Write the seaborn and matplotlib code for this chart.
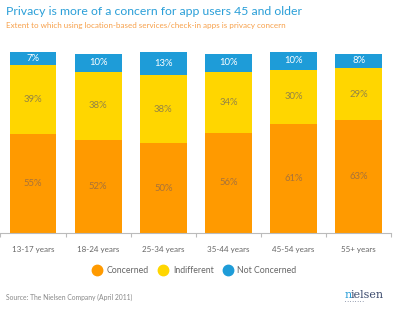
import matplotlib
matplotlib.use("Agg")
import matplotlib.pyplot as plt
from matplotlib.lines import Line2D
import numpy as np
import pandas as pd
import seaborn as sns

categories = ["13-17 years", "18-24 years", "25-34 years", "35-44 years", "45-54 years", "55+ years"]
concerned = [55, 52, 50, 56, 61, 63]
indifferent = [39, 38, 38, 34, 30, 29]
not_concerned = [7, 10, 13, 10, 10, 8]

series_names = ["Concerned", "Indifferent", "Not Concerned"]
series_values = [concerned, indifferent, not_concerned]
colors = ["#FF9A00", "#FFD600", "#1E9CD8"]
label_colors = ["#A8733A", "#948446", "#FFFFFF"]

sns.set_theme(style="white")
plt.rcParams["font.family"] = ["Lato", "DejaVu Sans"]

fig = plt.figure(figsize=(3.97, 3.21), dpi=100)
ax = fig.add_axes([0.001, 0.274, 0.985, 0.564])

bottom = np.zeros(len(categories))
for name, vals, col, lcol in zip(series_names, series_values, colors, label_colors):
    df = pd.DataFrame({"age": categories, "pct": vals})
    sns.barplot(data=df, x="age", y="pct", color=col, bottom=bottom,
                width=0.72, saturation=1, ax=ax, linewidth=0)
    for i, v in enumerate(vals):
        ax.text(i, bottom[i] + v / 2, f"{v}%", ha="center", va="center",
                fontsize=6.8, color=lcol)
    bottom = bottom + np.array(vals)

ax.set_xlim(-0.5, len(categories) - 0.5)
ax.set_ylim(0, 101)
ax.set_xlabel("")
ax.set_ylabel("")
ax.set_yticks([])
for s in ["top", "right", "left"]:
    ax.spines[s].set_visible(False)
ax.spines["bottom"].set_color("#BBBBBB")
ax.spines["bottom"].set_linewidth(0.8)
ax.set_xticks(np.arange(-0.5, len(categories), 1.0), minor=True)
ax.tick_params(axis="x", which="minor", length=3, color="#BBBBBB", width=0.8, bottom=True)
ax.tick_params(axis="x", which="major", length=0, labelsize=5.8, labelcolor="#666666", pad=9)

fig.text(0.015, 0.965, "Privacy is more of a concern for app users 45 and older",
         fontsize=8.8, color="#2A9FD8", ha="left", va="center")
fig.text(0.015, 0.922, "Extent to which using location-based services/check-in apps is privacy concern",
         fontsize=5.8, color="#F7A04A", ha="left", va="center")

handles = [Line2D([], [], marker="o", linestyle="", markersize=7.5,
                  markerfacecolor=c, markeredgecolor=c) for c in colors]
fig.legend(handles, series_names, loc="center", bbox_to_anchor=(0.485, 0.157),
           ncol=3, frameon=False, fontsize=6.3, handletextpad=0.1, columnspacing=0.6,
           labelcolor="#666666")

fig.text(0.015, 0.075, "Source: The Nielsen Company (April 2011)",
         fontsize=4.9, color="#888888", ha="left", va="center")
fig.text(0.867, 0.082, "n", fontsize=8, color="#2A9FD8", ha="left", va="center",
         family=["DejaVu Serif"])
fig.text(0.884, 0.082, "ielsen", fontsize=8, color="#3D4C6E", ha="left", va="center",
         family=["DejaVu Serif"])
fig.text(0.868, 0.062, "· · · · · · · ·", fontsize=3.5, color="#3D4C6E", ha="left", va="center")

fig.savefig("out.png", dpi=100, facecolor="white")
